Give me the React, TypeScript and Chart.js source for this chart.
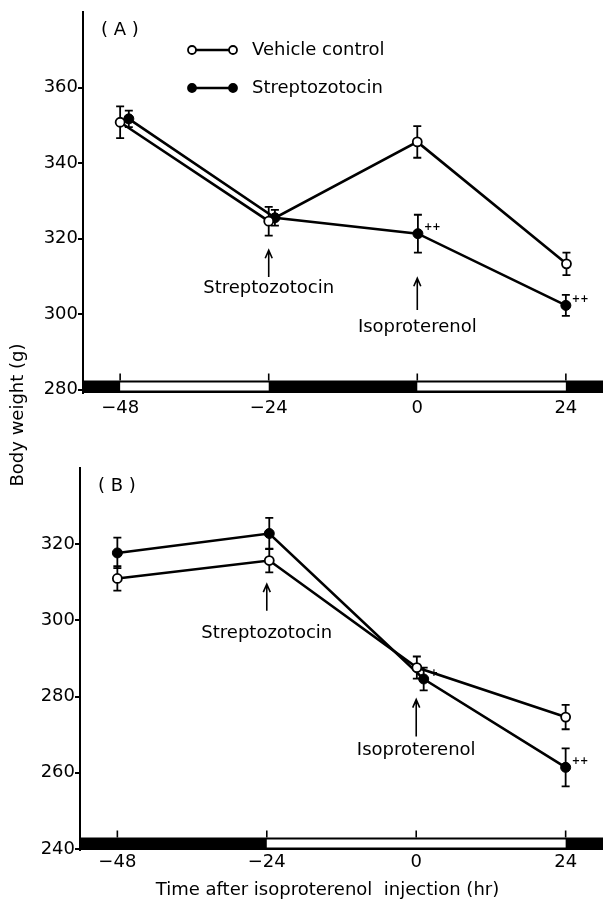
import React, { useEffect, useRef } from 'react';
import { Chart, registerables } from 'chart.js';

Chart.register(...registerables);

const FONT = '"DejaVu Sans", "Open Sans", sans-serif';

// Shared x axis (hours)
const xTickValues = [-48, -24, 0, 24];
const xTickLabels = ['\u221248', '\u221224', '0', '24'];
const xAxisTitle = 'Time after isoproterenol  injection (hr)';
const yAxisTitle = 'Body weight (g)';

// Panel A
const yTicksA = [280, 300, 320, 340, 360];
const vehicleXA = [-48, -24, 0, 24.1];
const vehicleA = [350.8, 324.6, 345.6, 313.3];
const vehicleErrA = [4.2, 3.8, 4.2, 3.0];
const streptoXA = [-46.6, -23, 0.1, 24];
const streptoA = [351.7, 325.5, 321.3, 302.3];
const streptoErrA = [2.2, 2.1, 5.0, 2.8];
const streptoSigA = ['', '', '++', '++'];
const lightA = [[-48, -24], [0, 24]];
const arrowsA = [
  { text: 'Streptozotocin', x: -24, tip: 316.9, tail: 309.8, labelY: 306.9 },
  { text: 'Isoproterenol', x: 0, tip: 309.5, tail: 301.1, labelY: 296.6 },
];

// Panel B
const yTicksB = [240, 260, 280, 300, 320];
const vehicleXB = [-48, -23.6, 0.1, 24];
const vehicleB = [311.0, 315.7, 287.6, 274.6];
const vehicleErrB = [3.2, 3.1, 2.9, 3.2];
const streptoXB = [-48, -23.6, 1.2, 24];
const streptoB = [317.7, 322.8, 284.6, 261.4];
const streptoErrB = [4.0, 4.1, 3.0, 5.0];
const streptoSigB = ['', '', '+', '++'];
const lightB = [[-24, 24]];
const arrowsB = [
  { text: 'Streptozotocin', x: -24, tip: 309.5, tail: 302.5, labelY: 296.7 },
  { text: 'Isoproterenol', x: 0, tip: 279.2, tail: 269.5, labelY: 266.0 },
];

type Arrow = { text: string; x: number; tip: number; tail: number; labelY: number };
type Panel = {
  name: string;
  yMin: number;
  yMax: number;
  yTicks: number[];
  vehicleX: number[];
  vehicle: number[];
  vehicleErr: number[];
  streptoX: number[];
  strepto: number[];
  streptoErr: number[];
  streptoSig: string[];
  light: number[][];
  arrows: Arrow[];
  legend: boolean;
  xTitle: string;
  padTop: number;
  yAxisWidth: number;
  xAxisHeight: number;
  tickPad: number;
  canvasTop: number;
  canvasHeight: number;
};

const panels: Panel[] = [
  {
    name: '( A )',
    yMin: 279.1,
    yMax: 380,
    yTicks: yTicksA,
    vehicleX: vehicleXA,
    vehicle: vehicleA,
    vehicleErr: vehicleErrA,
    streptoX: streptoXA,
    strepto: streptoA,
    streptoErr: streptoErrA,
    streptoSig: streptoSigA,
    light: lightA,
    arrows: arrowsA,
    legend: true,
    xTitle: '',
    padTop: 12,
    yAxisWidth: 83,
    xAxisHeight: 47,
    tickPad: 5,
    canvasTop: 0,
    canvasHeight: 440,
  },
  {
    name: '( B )',
    yMin: 239.7,
    yMax: 340,
    yTicks: yTicksB,
    vehicleX: vehicleXB,
    vehicle: vehicleB,
    vehicleErr: vehicleErrB,
    streptoX: streptoXB,
    strepto: streptoB,
    streptoErr: streptoErrB,
    streptoSig: streptoSigB,
    light: lightB,
    arrows: arrowsB,
    legend: false,
    xTitle: xAxisTitle,
    padTop: 28,
    yAxisWidth: 80,
    xAxisHeight: 52,
    tickPad: 2,
    canvasTop: 440,
    canvasHeight: 462,
  },
];

function makePlugin(p: Panel) {
  return {
    id: 'panelDecor',
    beforeDatasetsDraw(chart: any) {
      const { ctx, chartArea: ca, scales } = chart;
      const x = scales.x;
      const y = scales.y;
      ctx.save();
      // light/dark bar
      const barH = 12.5;
      const top = ca.bottom - barH;
      ctx.fillStyle = '#000';
      ctx.fillRect(ca.left, top, ca.right - ca.left, barH);
      ctx.fillStyle = '#fff';
      for (const [a, b] of p.light) {
        const xa = x.getPixelForValue(a);
        const xb = x.getPixelForValue(b);
        ctx.fillRect(xa, top + 2, xb - xa, barH - 4.5);
      }
      // tick marks above bar
      ctx.strokeStyle = '#000';
      ctx.lineWidth = 1.6;
      for (const v of xTickValues) {
        const px = x.getPixelForValue(v);
        ctx.beginPath();
        ctx.moveTo(px, top);
        ctx.lineTo(px, top - 7);
        ctx.stroke();
      }
      // error bars
      chart.data.datasets.forEach((ds: any) => {
        const errs: number[] = ds.errors || [];
        ctx.lineWidth = 1.8;
        ds.data.forEach((pt: any, i: number) => {
          const e = errs[i];
          if (!e) return;
          const px = x.getPixelForValue(pt.x);
          const y1 = y.getPixelForValue(pt.y + e);
          const y2 = y.getPixelForValue(pt.y - e);
          ctx.beginPath();
          ctx.moveTo(px, y1);
          ctx.lineTo(px, y2);
          ctx.moveTo(px - 4, y1);
          ctx.lineTo(px + 4, y1);
          ctx.moveTo(px - 4, y2);
          ctx.lineTo(px + 4, y2);
          ctx.stroke();
        });
      });
      ctx.restore();
    },
    afterDatasetsDraw(chart: any) {
      const { ctx, chartArea: ca, scales } = chart;
      const x = scales.x;
      const y = scales.y;
      ctx.save();
      ctx.fillStyle = '#000';
      ctx.strokeStyle = '#000';
      // significance markers
      ctx.font = `bold 10px ${FONT}`;
      ctx.textAlign = 'left';
      ctx.textBaseline = 'middle';
      p.streptoSig.forEach((s, i) => {
        if (!s) return;
        const px = x.getPixelForValue(p.streptoX[i]);
        const py = y.getPixelForValue(p.strepto[i]);
        ctx.fillText(s, px + 6, py - 6);
      });
      // arrows and labels
      ctx.font = `18px ${FONT}`;
      ctx.textAlign = 'center';
      ctx.lineWidth = 1.6;
      for (const a of p.arrows) {
        const px = x.getPixelForValue(a.x);
        const tip = y.getPixelForValue(a.tip);
        const tail = y.getPixelForValue(a.tail);
        ctx.beginPath();
        ctx.moveTo(px, tail);
        ctx.lineTo(px, tip);
        ctx.moveTo(px - 3.5, tip + 8);
        ctx.lineTo(px, tip);
        ctx.lineTo(px + 3.5, tip + 8);
        ctx.stroke();
        ctx.fillText(a.text, px, y.getPixelForValue(a.labelY));
      }
      // x axis title
      if (p.xTitle) {
        ctx.textAlign = 'center';
        ctx.fillText(p.xTitle, (ca.left + ca.right) / 2 - 14, chart.height - 12);
      }
      // panel label
      ctx.textAlign = 'left';
      ctx.fillText(p.name, ca.left + 18, ca.top + 18);
      // legend
      if (p.legend) {
        const items = [
          { text: 'Vehicle control', fill: '#fff' },
          { text: 'Streptozotocin', fill: '#000' },
        ];
        items.forEach((it, k) => {
          const ly = ca.top + 38 + k * 38;
          const x1 = ca.left + 109;
          const x2 = ca.left + 150;
          ctx.lineWidth = 2.6;
          ctx.beginPath();
          ctx.moveTo(x1, ly);
          ctx.lineTo(x2, ly);
          ctx.stroke();
          for (const cx of [x1, x2]) {
            ctx.beginPath();
            ctx.arc(cx, ly, 4, 0, Math.PI * 2);
            ctx.fillStyle = it.fill;
            ctx.fill();
            ctx.lineWidth = 1.8;
            ctx.stroke();
          }
          ctx.fillStyle = '#000';
          ctx.fillText(it.text, ca.left + 169, ly);
        });
      }
      ctx.restore();
    },
  };
}

function makeConfig(p: Panel): any {
  return {
    type: 'line',
    data: {
      datasets: [
        {
          label: 'Vehicle control',
          data: p.vehicleX.map((xv, i) => ({ x: xv, y: p.vehicle[i] })),
          errors: p.vehicleErr,
          borderColor: '#000',
          borderWidth: 2.6,
          pointRadius: 4.5,
          pointHoverRadius: 4.5,
          pointBackgroundColor: '#fff',
          pointBorderColor: '#000',
          pointBorderWidth: 1.8,
          tension: 0,
        },
        {
          label: 'Streptozotocin',
          data: p.streptoX.map((xv, i) => ({ x: xv, y: p.strepto[i] })),
          errors: p.streptoErr,
          borderColor: '#000',
          borderWidth: 2.6,
          pointRadius: 5,
          pointHoverRadius: 5,
          pointBackgroundColor: '#000',
          pointBorderColor: '#000',
          pointBorderWidth: 1,
          tension: 0,
        },
      ],
    },
    options: {
      animation: false,
      responsive: false,
      events: [],
      layout: { autoPadding: false, padding: { top: p.padTop, left: 0, right: 0, bottom: 0 } },
      plugins: {
        legend: { display: false },
        tooltip: { enabled: false },
        title: { display: false },
      },
      scales: {
        x: {
          type: 'linear',
          min: -54,
          max: 30,
          afterBuildTicks: (s: any) => {
            s.ticks = xTickValues.map((v) => ({ value: v }));
          },
          afterFit: (s: any) => {
            s.height = p.xAxisHeight;
            s.paddingLeft = 0;
            s.paddingRight = 0;
          },
          grid: { display: false, drawTicks: false, tickLength: 0 },
          border: { display: false },
          ticks: {
            padding: p.tickPad,
            color: '#000',
            font: { family: FONT, size: 18 },
            maxRotation: 0,
            callback: (v: number) => {
              const i = xTickValues.indexOf(v);
              return i >= 0 ? xTickLabels[i] : '';
            },
          },
        },
        y: {
          type: 'linear',
          min: p.yMin,
          max: p.yMax,
          afterBuildTicks: (s: any) => {
            s.ticks = p.yTicks.map((v) => ({ value: v }));
          },
          afterFit: (s: any) => {
            s.width = p.yAxisWidth;
            s.paddingTop = 0;
            s.paddingBottom = 0;
          },
          grid: {
            display: true,
            drawOnChartArea: false,
            drawTicks: true,
            tickLength: 5,
            color: '#000',
            lineWidth: 2,
          },
          border: { display: true, color: '#000', width: 2 },
          ticks: {
            padding: 0,
            color: '#000',
            font: { family: FONT, size: 18 },
            callback: (v: number) => String(v),
          },
        },
      },
    },
    plugins: [makePlugin(p)],
  };
}

function PanelChart({ panel }: { panel: Panel }) {
  const ref = useRef<HTMLCanvasElement>(null);
  useEffect(() => {
    const chart = new Chart(ref.current as HTMLCanvasElement, makeConfig(panel));
    return () => chart.destroy();
  }, [panel]);
  return (
    <canvas
      ref={ref}
      width={603}
      height={panel.canvasHeight}
      style={{ position: 'absolute', left: 0, top: panel.canvasTop, width: 603, height: panel.canvasHeight }}
    />
  );
}

export default function App() {
  return (
    <div style={{ position: 'absolute', left: 0, top: 0, width: 603, height: 902, background: '#fff', overflow: 'hidden' }}>
      {panels.map((p) => (
        <PanelChart key={p.name} panel={p} />
      ))}
      <div
        style={{
          position: 'absolute',
          left: 17 - 110,
          top: 415 - 12,
          width: 220,
          height: 24,
          lineHeight: '24px',
          textAlign: 'center',
          transform: 'rotate(-90deg)',
          fontFamily: FONT,
          fontSize: 18,
          color: '#000',
          whiteSpace: 'nowrap',
        }}
      >
        {yAxisTitle}
      </div>
    </div>
  );
}
